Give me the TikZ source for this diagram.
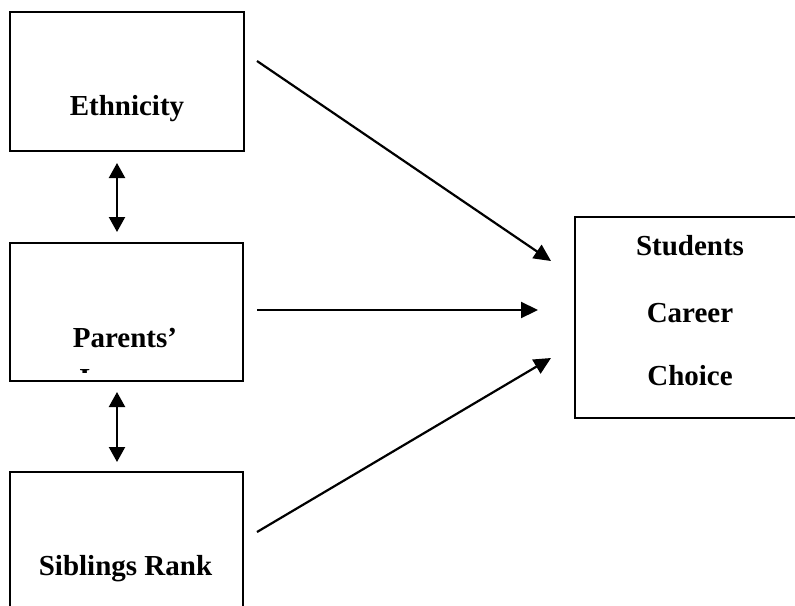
\documentclass[tikz,border=0pt]{standalone}
\usepackage{fontspec}
\setmainfont{Liberation Serif}
\usetikzlibrary{arrows.meta}

\tikzset{
    box/.style={draw, line width=1.8pt, inner sep=0pt},
    lbl/.style={font=\bfseries\fontsize{29}{35}\selectfont, inner sep=0pt, anchor=base},
    arr/.style={-{Triangle[length=17pt,width=16pt]}, line width=2.2pt},
    darr/.style={{Triangle[length=15pt,width=16pt]}-{Triangle[length=15pt,width=16pt]}, line width=2.2pt}
}

\begin{document}
\begin{tikzpicture}[x=1pt,y=-1pt]
    \clip (0,0) rectangle (795,605);

    % left column boxes
    \node[box, minimum width=234pt, minimum height=139pt] (eth) at (127,81.5) {};
    \node[lbl] (ethtxt) at (127,115) {Ethnicity};
    \node[box, minimum width=233pt, minimum height=138pt] (par) at (126.5,312) {};
    \node[lbl] (partxt) at (125,347) {Parents’};
    \begin{scope}
        \clip (12,245) rectangle (241,372);
        \node[lbl] (partxtb) at (125,388) {Income};
    \end{scope}
    \node[box, minimum width=233pt, minimum height=148pt] (sib) at (126.5,546) {};
    \node[lbl] (sibtxt) at (125.5,575) {Siblings Rank};

    % outcome box
    \node[box, minimum width=230pt, minimum height=201pt] (scc) at (690,317.5) {};
    \node[lbl] (scc1) at (690,255) {Students};
    \node[lbl] (scc2) at (690,322) {Career};
    \node[lbl] (scc3) at (690,385) {Choice};

    % arrow ends
    \coordinate (e1) at (257,61);
    \coordinate (e2) at (551,261);
    \coordinate (p1) at (257,310);
    \coordinate (p2) at (538,310);
    \coordinate (s1) at (257,532);
    \coordinate (s2) at (551,358);
    \coordinate (ep1) at (117,163);
    \coordinate (ep2) at (117,232);
    \coordinate (ps1) at (117,392);
    \coordinate (ps2) at (117,462);

    \draw[arr] (e1) -- (e2);
    \draw[arr] (p1) -- (p2);
    \draw[arr] (s1) -- (s2);
    \draw[darr] (ep1) -- (ep2);
    \draw[darr] (ps1) -- (ps2);
\end{tikzpicture}
\end{document}
